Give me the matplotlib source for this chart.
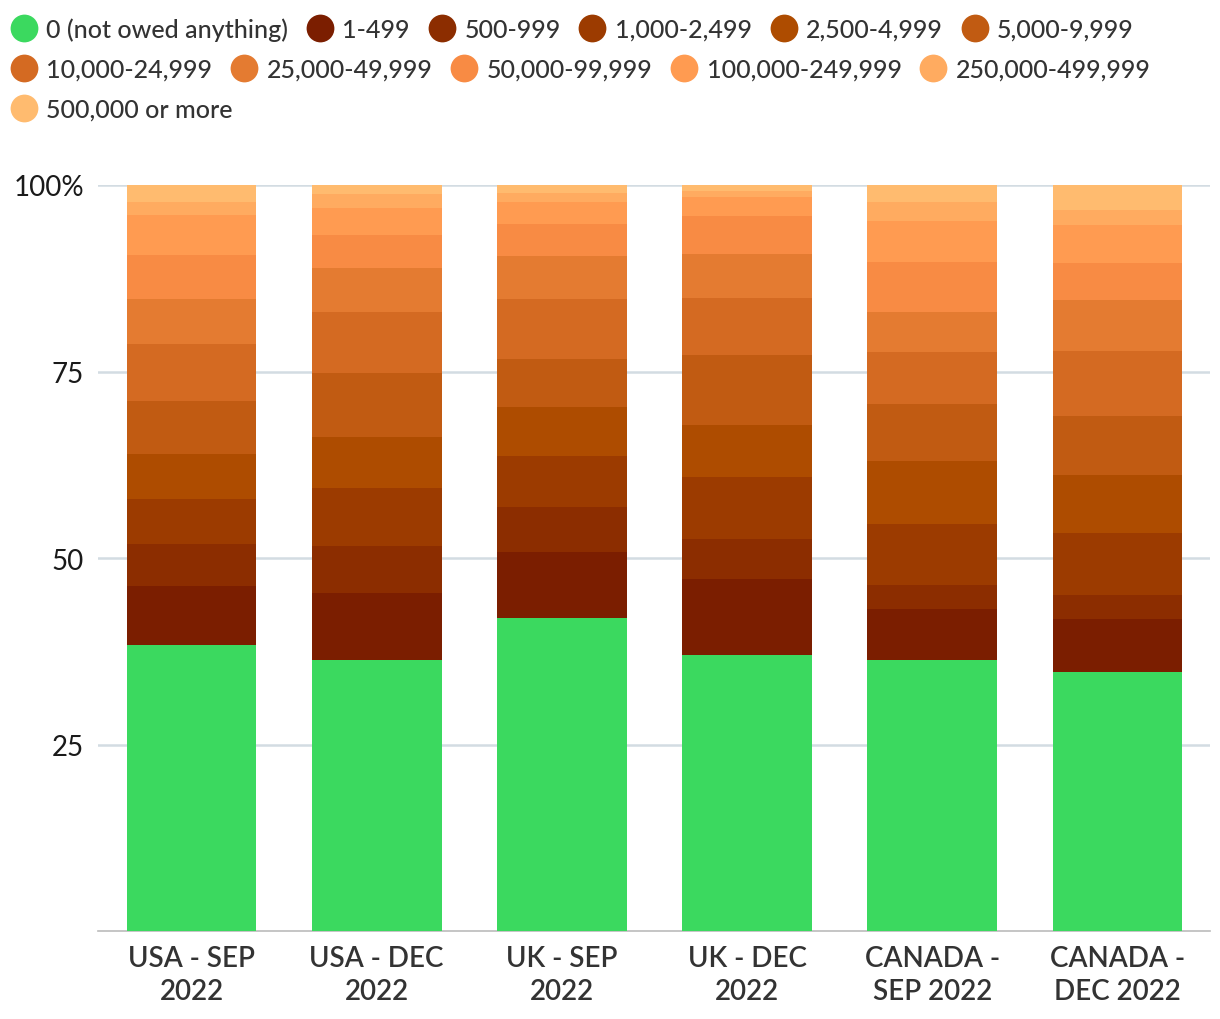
import numpy as np
import matplotlib.pyplot as plt
from matplotlib.lines import Line2D

plt.rcParams['font.family'] = ['Lato', 'DejaVu Sans']

# ---- data ----
groups = ['USA - SEP\n2022', 'USA - DEC\n2022', 'UK - SEP\n2022',
          'UK - DEC\n2022', 'CANADA -\nSEP 2022', 'CANADA -\nDEC 2022']
bands = ['0 (not owed anything)', '1-499', '500-999', '1,000-2,499',
         '2,500-4,999', '5,000-9,999', '10,000-24,999', '25,000-49,999',
         '50,000-99,999', '100,000-249,999', '250,000-499,999',
         '500,000 or more']

usa_sep = [38.3, 7.9, 5.7, 6.0, 6.0, 7.1, 7.7, 6.0, 5.9, 5.4, 1.7, 2.3]
usa_dec = [36.3, 9.0, 6.3, 7.8, 6.8, 8.6, 8.2, 5.9, 4.4, 3.6, 1.9, 1.2]
uk_sep = [42.0, 8.8, 6.0, 6.9, 6.5, 6.5, 8.0, 5.8, 4.3, 2.9, 1.2, 1.1]
uk_dec = [37.0, 10.2, 5.3, 8.4, 6.9, 9.4, 7.7, 5.9, 5.0, 2.6, 0.8, 0.8]
can_sep = [36.3, 6.9, 3.2, 8.2, 8.4, 7.6, 7.0, 5.4, 6.7, 5.5, 2.5, 2.3]
can_dec = [34.7, 7.1, 3.2, 8.4, 7.7, 7.9, 8.7, 6.9, 4.9, 5.1, 2.0, 3.4]

colors = ['#3bd95f', '#7b1e00', '#8c2d00', '#9c3b00', '#ae4c00', '#c15b12',
          '#d46a22', '#e47b31', '#f88b44', '#ff9b51', '#ffab60', '#ffbb6f']

# ---- plot ----
data = np.array([usa_sep, usa_dec, uk_sep, uk_dec, can_sep, can_dec])
fig = plt.figure(figsize=(12.2, 10.2), dpi=100)
ax = fig.add_axes([98/1220, 88/1020, 1112/1220, 746/1020])

x = np.arange(len(groups))
bottom = np.zeros(len(groups))
for i, band in enumerate(bands):
    ax.bar(x, data[:, i], 0.70, bottom=bottom, color=colors[i], zorder=3)
    bottom += data[:, i]

ax.set_xlim(-0.505, 5.5)
ax.set_ylim(0, 100)
ax.set_yticks([25, 50, 75, 100])
ax.set_yticklabels(['25', '50', '75', '100%'])
ax.yaxis.grid(True, color='#d3dce2', lw=1.8, zorder=0)
ax.set_xticks(x)
ax.set_xticklabels(groups, fontsize=20, color='#333333', fontweight='semibold',
                   linespacing=1.32)
ax.tick_params(axis='y', length=0, labelsize=20, labelcolor='#1a1a1a', pad=10)
ax.tick_params(axis='x', length=0, pad=10)
for s in ['top', 'right', 'left']:
    ax.spines[s].set_visible(False)
ax.spines['bottom'].set_color('#bbbbbb')
ax.spines['bottom'].set_linewidth(1.2)

# legend, flowed in three rows
rows = [range(0, 6), range(6, 11), range(11, 12)]
row_y = [30, 70, 110]
for r, ys in zip(rows, row_y):
    handles = [Line2D([], [], ls='none', marker='o', markersize=20,
                      markerfacecolor=colors[i], markeredgewidth=0)
               for i in r]
    leg = fig.legend(handles, [bands[i] for i in r], ncol=len(r),
                     loc='center left', bbox_to_anchor=(10/1220, 1 - ys/1020),
                     frameon=False, handlelength=1.1,
                     prop={'size': 18, 'weight': 'medium'},
                     handletextpad=0.35, columnspacing=0.72, borderpad=0,
                     borderaxespad=0)
    for t in leg.get_texts():
        t.set_color('#333333')

fig.savefig('out.png', dpi=100)
